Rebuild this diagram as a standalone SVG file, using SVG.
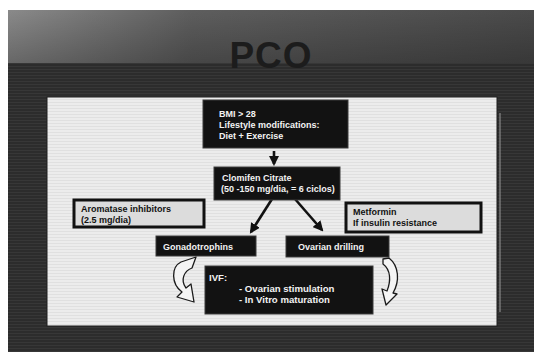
<svg xmlns="http://www.w3.org/2000/svg" width="534" height="352" viewBox="0 0 534 352">
  <defs>
    <linearGradient id="topband" x1="0" y1="0" x2="1" y2="0">
      <stop offset="0" stop-color="#8a8a8a"/>
      <stop offset="0.35" stop-color="#5e5e5e"/>
      <stop offset="1" stop-color="#4a4a4a"/>
    </linearGradient>
    <linearGradient id="topfade" x1="0" y1="0" x2="0" y2="1">
      <stop offset="0" stop-color="#000" stop-opacity="0"/>
      <stop offset="1" stop-color="#000" stop-opacity="0.25"/>
    </linearGradient>
    <pattern id="stripes" width="4" height="3" patternUnits="userSpaceOnUse">
      <rect width="4" height="3" fill="#2c2c2c"/>
      <rect width="4" height="1" fill="#373737"/>
    </pattern>
    <pattern id="panelTex" width="6" height="3" patternUnits="userSpaceOnUse">
      <rect width="6" height="3" fill="#ececec"/>
      <rect width="6" height="1" fill="#e0e0e0"/>
    </pattern>
    <marker id="ah" viewBox="0 0 10 10" refX="8" refY="5" markerWidth="4" markerHeight="4" orient="auto">
      <path d="M0,0 L10,5 L0,10 Z" fill="#111"/>
    </marker>
    <style>
      .dark { fill: #121212; stroke: #3a3a3a; stroke-width: 1; }
      .light { fill: #dcdcdc; stroke: #111; stroke-width: 3; }
      .wt { fill: #f2f2f2; font-family: "Liberation Sans", Arial, sans-serif; font-weight: bold; font-size: 9px; }
      .bt { fill: #111; font-family: "Liberation Sans", Arial, sans-serif; font-weight: bold; font-size: 9px; }
      .ivf { fill: #f2f2f2; font-family: "Liberation Sans", Arial, sans-serif; font-weight: bold; font-size: 9.6px; }
      .conn { stroke: #111; stroke-width: 2.6; fill: none; marker-end: url(#ah); }
      .curve { fill: #f4f4f4; stroke: #1a1a1a; stroke-width: 1.3; stroke-linejoin: round; }
    </style>
  </defs>

  <!-- slide background -->
  <rect x="0" y="0" width="534" height="352" fill="#ffffff"/>
  <rect x="8" y="10" width="526" height="342" fill="url(#stripes)"/>
  <rect x="8" y="10" width="526" height="53" fill="url(#topband)"/>
  <rect x="8" y="10" width="526" height="53" fill="url(#topfade)"/>

  <!-- title -->
  <text x="271" y="68" text-anchor="middle" font-family="'Liberation Sans', Arial, sans-serif" font-weight="bold" font-size="37" letter-spacing="1" fill="#1c1c1c">PCO</text>

  <!-- content panel -->
  <rect x="47" y="97" width="450" height="229" fill="url(#panelTex)" stroke="#1e1e1e" stroke-width="1"/>
  <line x1="500" y1="113" x2="500" y2="312" stroke="#9a9a9a" stroke-width="1"/>

  <!-- connectors -->
  <g id="connectors">
    <line class="conn" x1="274" y1="151" x2="274" y2="164"/>
    <line class="conn" x1="272" y1="199" x2="251" y2="232"/>
    <line class="conn" x1="295" y1="199" x2="322" y2="230"/>
    <path class="curve" d="M181 262 L196 257 L192 268 C184 271 180 280 186 288 L191 284 L194 302 L177 297 L182 292 C171 284 171 267 181 262 Z"/>
    <path class="curve" d="M383 259 L389 258 C399 266 400 281 393 293 L397 294 L386 305 L382 289 L387 291 C391 281 391 270 383 264 Z"/>
  </g>

  <!-- nodes -->
  <g id="bmi">
    <rect class="dark" x="203" y="100" width="145" height="48"/>
    <text class="wt" x="219" y="117">BMI &gt; 28</text>
    <text class="wt" x="219" y="128">Lifestyle modifications:</text>
    <text class="wt" x="219" y="139">Diet + Exercise</text>
  </g>

  <g id="clomifen">
    <rect class="dark" x="214" y="167" width="126" height="33"/>
    <text class="wt" x="222" y="181">Clomifen Citrate</text>
    <text class="wt" x="221" y="192">(50 -150 mg/dia, = 6 ciclos)</text>
  </g>

  <g id="aromatase">
    <rect class="light" x="74" y="200" width="130" height="27"/>
    <text class="bt" x="81" y="212">Aromatase inhibitors</text>
    <text class="bt" x="81" y="223">(2.5 mg/dia)</text>
  </g>

  <g id="metformin">
    <rect class="light" x="346" y="203" width="135" height="29"/>
    <text class="bt" x="353" y="215">Metformin</text>
    <text class="bt" x="353" y="226">If insulin resistance</text>
  </g>

  <g id="gonadotrophins">
    <rect class="dark" x="156" y="236" width="100" height="20"/>
    <text class="wt" x="163" y="250">Gonadotrophins</text>
  </g>

  <g id="drilling">
    <rect class="dark" x="286" y="236" width="103" height="21"/>
    <text class="wt" x="298" y="250">Ovarian drilling</text>
  </g>

  <g id="ivf">
    <rect class="dark" x="205" y="266" width="168" height="48"/>
    <text class="ivf" x="209" y="281">IVF:</text>
    <text class="ivf" x="239" y="292">- Ovarian stimulation</text>
    <text class="ivf" x="239" y="303">- In Vitro maturation</text>
  </g>
</svg>
